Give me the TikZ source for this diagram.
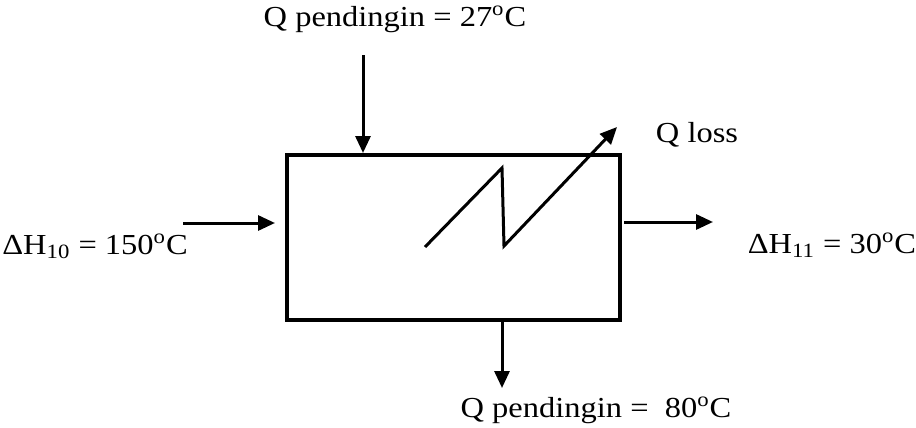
\documentclass[tikz,border=0pt]{standalone}
\usepackage{fontspec}
\setmainfont{Liberation Serif}[FakeStretch=1.12]
\usetikzlibrary{arrows.meta,positioning}
\tikzset{
    flow/.style = {line width=1.5pt, -{Triangle[length=8.5pt,width=7.5pt]}},
    lbl/.style  = {font=\fontsize{14.5}{17}\selectfont, inner sep=0pt, anchor=base},
}
\begin{document}
\begin{tikzpicture}[x=0.5pt,y=-0.5pt]
    \useasboundingbox (0,0) rectangle (916,428);
    % heat exchanger
    \node[
        draw,
        line width = 2pt,
        minimum width = 166.5pt,
        minimum height = 82.5pt,
        inner sep = 0pt
    ] (hx) at (453.5,237.5) {};
    % streams
    \coordinate (coolin) at (363,55);
    \coordinate (hotin) at (183,223);
    \coordinate (hotout) at (713,222);
    \coordinate (coolout) at (502,388);
    \draw[flow] (coolin) -- (coolin |- hx.north);
    \draw[flow, shorten >=5pt] (hotin) -- (hotin -| hx.west);
    \draw[flow, shorten <=1pt] (hotout -| hx.east) -- (hotout);
    \draw[flow] (coolout |- hx.south) -- (coolout);
    % heat loss
    \draw[flow, line join=miter] (425,247) -- (502,168) -- (504,246) -- (617,127);
    % labels
    \node[lbl] (tcoolin) at (395,26) {Q pendingin = 27\textsuperscript{o}C};
    \node[lbl] (thotin) at (95,254) {ΔH\textsubscript{10} = 150\textsuperscript{o}C};
    \node[lbl] (thotout) at (832,253) {ΔH\textsubscript{11} = 30\textsuperscript{o}C};
    \node[lbl] (tloss) at (697,142) {Q loss};
    \node[lbl] (tcoolout) at (596,417) {Q pendingin = \ 80\textsuperscript{o}C};
\end{tikzpicture}
\end{document}
